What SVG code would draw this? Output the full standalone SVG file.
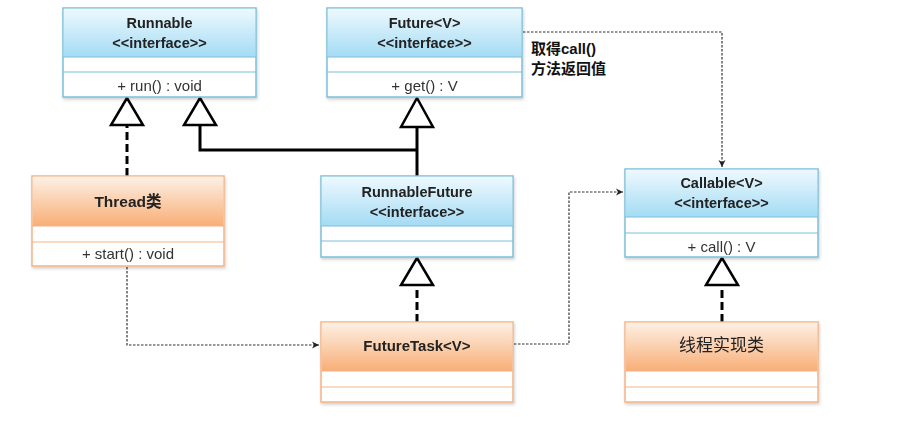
<svg xmlns="http://www.w3.org/2000/svg" width="911" height="436" viewBox="0 0 911 436">
<defs>
<linearGradient id="gBlue" x1="0" y1="0" x2="0" y2="1">
<stop offset="0" stop-color="#eef9fe"/>
<stop offset="1" stop-color="#a3dbf4"/>
</linearGradient>
<linearGradient id="gOrange" x1="0" y1="0" x2="0" y2="1">
<stop offset="0" stop-color="#fdf0e5"/>
<stop offset="1" stop-color="#f8ae76"/>
</linearGradient>
<filter id="sh" x="-5%" y="-5%" width="110%" height="115%">
<feDropShadow dx="1" dy="2" stdDeviation="1.5" flood-color="#000" flood-opacity="0.18"/>
</filter>
<marker id="arr" markerWidth="8" markerHeight="8" refX="7" refY="4" orient="auto" markerUnits="userSpaceOnUse">
<path d="M0,0.5 L7,4 L0,7.5 L2,4 Z" fill="#222"/>
</marker>
</defs>
<style>
.blue{fill:#fff;stroke:#7dbfd9;stroke-width:1.5}
.orange{fill:#fff;stroke:#f2b487;stroke-width:1.5}
.hb{fill:url(#gBlue)}
.ho{fill:url(#gOrange)}
.sepb{stroke:#7dbfd9;stroke-width:1.2}
.sepo{stroke:#f2b487;stroke-width:1.2}
.t{font-family:"Liberation Sans",Arial,"Noto Sans CJK SC",sans-serif;font-weight:bold;font-size:14.5px;fill:#222;text-anchor:middle}
.m{font-family:"Liberation Sans",Arial,sans-serif;font-size:15px;fill:#333;text-anchor:middle}
.cn{font-family:"Liberation Sans","Noto Sans CJK SC",sans-serif;font-weight:bold;font-size:15px;fill:#111}
.solid{fill:none;stroke:#000;stroke-width:3}
.dash{fill:none;stroke:#000;stroke-width:3;stroke-dasharray:8,4}
.tri{fill:#fff;stroke:#000;stroke-width:2.5;stroke-linejoin:miter}
.dot{fill:none;stroke:#333;stroke-width:1.2;stroke-dasharray:2.5,1.5}
</style>

<g id="connectors">
<!-- Thread realizes Runnable -->
<path class="dash" d="M127,176 V125"/>
<polygon class="tri" points="127,98 111,125 143,125"/>
<!-- RunnableFuture extends Runnable and Future -->
<path class="solid" d="M200,125 V150 H417"/>
<polygon class="tri" points="200,98 184,125 216,125"/>
<path class="solid" d="M417,127 V176"/>
<polygon class="tri" points="417,98 401,127 433,127"/>
<!-- FutureTask realizes RunnableFuture -->
<path class="dash" d="M417,322 V285"/>
<polygon class="tri" points="417,258 401,285 433,285"/>
<!-- 线程实现类 realizes Callable -->
<path class="dash" d="M722,322 V285"/>
<polygon class="tri" points="722,258 706,285 738,285"/>
<!-- dependencies -->
<path class="dot" d="M127,267 V345 H319" marker-end="url(#arr)"/>
<path class="dot" d="M514,344 H569 V192 H623" marker-end="url(#arr)"/>
<path class="dot" d="M523,32 H722 V167" marker-end="url(#arr)"/>
<text class="cn" x="531" y="54">取得call()</text>
<text class="cn" x="531" y="74">方法返回值</text>
</g>

<g id="runnable" filter="url(#sh)">
<rect class="blue" x="63" y="8" width="193" height="89"/>
<rect class="hb" x="63.75" y="8.75" width="191.5" height="48.25"/>
<line class="sepb" x1="63" y1="57" x2="256" y2="57"/>
<line class="sepb" x1="63" y1="72" x2="256" y2="72"/>
<text class="t" x="159.5" y="28">Runnable</text>
<text class="t" x="159.5" y="48">&lt;&lt;interface&gt;&gt;</text>
<text class="m" x="159.5" y="91">+ run() : void</text>
</g>

<g id="future" filter="url(#sh)">
<rect class="blue" x="327" y="8" width="195" height="89"/>
<rect class="hb" x="327.75" y="8.75" width="193.5" height="48.25"/>
<line class="sepb" x1="327" y1="57" x2="522" y2="57"/>
<line class="sepb" x1="327" y1="72" x2="522" y2="72"/>
<text class="t" x="424.5" y="28">Future&lt;V&gt;</text>
<text class="t" x="424.5" y="48">&lt;&lt;interface&gt;&gt;</text>
<text class="m" x="424.5" y="91">+ get() : V</text>
</g>

<g id="thread" filter="url(#sh)">
<rect class="orange" x="32" y="176" width="192" height="90"/>
<rect class="ho" x="32.75" y="176.75" width="190.5" height="49.25"/>
<line class="sepo" x1="32" y1="226" x2="224" y2="226"/>
<line class="sepo" x1="32" y1="242" x2="224" y2="242"/>
<text class="t" x="128" y="207" style="font-size:15.5px">Thread类</text>
<text class="m" x="128" y="259">+ start() : void</text>
</g>

<g id="runnablefuture" filter="url(#sh)">
<rect class="blue" x="321" y="176" width="192" height="81"/>
<rect class="hb" x="321.75" y="176.75" width="190.5" height="49.25"/>
<line class="sepb" x1="321" y1="226" x2="513" y2="226"/>
<line class="sepb" x1="321" y1="241" x2="513" y2="241"/>
<text class="t" x="417" y="197">RunnableFuture</text>
<text class="t" x="417" y="217">&lt;&lt;interface&gt;&gt;</text>
</g>

<g id="callable" filter="url(#sh)">
<rect class="blue" x="625" y="169" width="193" height="88"/>
<rect class="hb" x="625.75" y="169.75" width="191.5" height="47.25"/>
<line class="sepb" x1="625" y1="217" x2="818" y2="217"/>
<line class="sepb" x1="625" y1="233" x2="818" y2="233"/>
<text class="t" x="721.5" y="187.5">Callable&lt;V&gt;</text>
<text class="t" x="721.5" y="208">&lt;&lt;interface&gt;&gt;</text>
<text class="m" x="721.5" y="252">+ call() : V</text>
</g>

<g id="futuretask" filter="url(#sh)">
<rect class="orange" x="321" y="322" width="192" height="80"/>
<rect class="ho" x="321.75" y="322.75" width="190.5" height="48.25"/>
<line class="sepo" x1="321" y1="371" x2="513" y2="371"/>
<line class="sepo" x1="321" y1="387" x2="513" y2="387"/>
<text class="t" x="417" y="350.5" style="font-size:15px">FutureTask&lt;V&gt;</text>
</g>

<g id="threadimpl" filter="url(#sh)">
<rect class="orange" x="625" y="322" width="193" height="80"/>
<rect class="ho" x="625.75" y="322.75" width="191.5" height="48.25"/>
<line class="sepo" x1="625" y1="371" x2="818" y2="371"/>
<line class="sepo" x1="625" y1="387" x2="818" y2="387"/>
<text x="721.5" y="351" style="font-family:'Noto Sans CJK SC',sans-serif;font-size:17px;fill:#222;text-anchor:middle">线程实现类</text>
</g>
</svg>
